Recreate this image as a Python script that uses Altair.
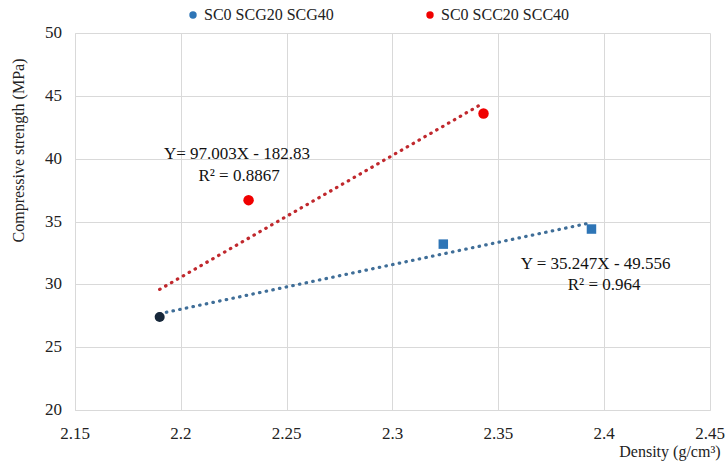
import altair as alt
import pandas as pd

# ---- data ----
series_names = ["SC0 SCG20 SCG40", "SC0 SCC20 SCC40"]
density_scg = [2.19, 2.324, 2.394]
strength_scg = [27.4, 33.2, 34.4]
density_scc = [2.19, 2.232, 2.343]
strength_scc = [27.4, 36.7, 43.6]

x_ticks = [2.15, 2.2, 2.25, 2.3, 2.35, 2.4, 2.45]
y_ticks = [20, 25, 30, 35, 40, 45, 50]

eq_texts = ["Y= 97.003X - 182.83", "R\u00b2 = 0.8867", "Y = 35.247X - 49.556", "R\u00b2 = 0.964"]
eq_x = [2.2265, 2.2275, 2.396, 2.40]
eq_y = [40.35, 38.65, 31.6, 29.95]

rows = []
for d, s in zip(density_scg, strength_scg):
    rows.append({"series": series_names[0], "density": d, "strength": s})
for d, s in zip(density_scc, strength_scc):
    rows.append({"series": series_names[1], "density": d, "strength": s})
df = pd.DataFrame(rows)
df["is_sc0"] = df["density"] == min(density_scg)

ann = pd.DataFrame({"text": eq_texts, "density": eq_x, "strength": eq_y})
xt = pd.DataFrame({"density": x_ticks, "strength": [min(y_ticks)] * len(x_ticks)})
yt = pd.DataFrame({"strength": y_ticks, "density": [min(x_ticks)] * len(y_ticks)})

FONT = "Liberation Serif"
BLUE = "#2E75B6"
RED = "#F00000"

xscale = alt.Scale(domain=[2.15, 2.45], nice=False, zero=False)
yscale = alt.Scale(domain=[20, 50], nice=False, zero=False)

xaxis = alt.Axis(values=x_ticks, labels=False, title="Density (g/cm\u00b3)",
                 titleX=645, titleY=46, titleAlign="right",
                 titleBaseline="alphabetic", titleFontWeight="normal",
                 titleFont=FONT, titleFontSize=16, ticks=False)
yaxis = alt.Axis(values=y_ticks, labels=False, title="Compressive strength  (MPa)",
                 titleX=-57, titleY=117, titleAngle=-90, titleAlign="center",
                 titleBaseline="middle", titleFontWeight="normal",
                 titleFont=FONT, titleFontSize=16, ticks=False)

xenc = alt.X("density:Q", scale=xscale, axis=xaxis)
yenc = alt.Y("strength:Q", scale=yscale, axis=yaxis)

color = alt.Color("series:N",
                  scale=alt.Scale(domain=series_names, range=[BLUE, RED]),
                  legend=alt.Legend(title=None, orient="none", legendX=110, legendY=-26,
                                    direction="horizontal", symbolType="circle",
                                    symbolSize=55, columnPadding=88, labelFont=FONT,
                                    labelFontSize=16, labelColor="#222222", labelOffset=3,
                                    symbolStrokeWidth=0))

base = alt.Chart(df)

trend_blue = base.transform_filter(alt.datum.series == series_names[0]).transform_regression(
    "density", "strength", method="linear"
).mark_line(strokeDash=[0.5, 6.3], strokeCap="round", strokeWidth=3.2, color="#3F6E98").encode(
    x=xenc, y=yenc)

trend_red = base.transform_filter(alt.datum.series == series_names[1]).transform_regression(
    "density", "strength", method="linear"
).mark_line(strokeDash=[0.5, 6.3], strokeCap="round", strokeWidth=3.2, color="#C0282D").encode(
    x=xenc, y=yenc)

pts_blue = base.transform_filter(
    (alt.datum.series == series_names[0]) & (~alt.datum.is_sc0)
).mark_square(size=90, opacity=1).encode(x=xenc, y=yenc, color=color)

pts_red = base.transform_filter(
    (alt.datum.series == series_names[1]) & (~alt.datum.is_sc0)
).mark_circle(size=110, opacity=1).encode(x=xenc, y=yenc, color=color)

pts_sc0 = base.transform_filter(alt.datum.is_sc0 & (alt.datum.series == series_names[0])).mark_circle(
    size=100, opacity=1, color="#17283A").encode(x=xenc, y=yenc)

labels = alt.Chart(ann).mark_text(font=FONT, fontSize=17, color="#111111",
                                  align="center", baseline="middle").encode(
    x=xenc, y=yenc, text="text:N")

xlabels = alt.Chart(xt).mark_text(font=FONT, fontSize=17, color="#222222",
                                  align="center", baseline="middle", dy=24).encode(
    x=xenc, y=yenc, text=alt.Text("density:Q", format="~g"))

ylabels = alt.Chart(yt).mark_text(font=FONT, fontSize=17, color="#222222",
                                  align="right", baseline="middle", dx=-13).encode(
    x=xenc, y=yenc, text=alt.Text("strength:Q", format="d"))

chart = alt.layer(trend_blue, trend_red, pts_blue, pts_red, pts_sc0, labels,
                  xlabels, ylabels).properties(
    width=635, height=377,
    autosize=alt.AutoSizeParams(type="none"),
    padding={"left": 75, "top": 33, "right": 18, "bottom": 52},
    background="white",
).configure(
    font=FONT,
).configure_view(stroke=None).configure_axis(
    gridColor="#d9d9d9", domainColor="#d9d9d9",
    titleFont=FONT, titleFontSize=16, titleColor="#222222",
    gridWidth=1, domainWidth=1,
).configure_legend(labelFont=FONT, labelFontSize=16)

chart.save("out.html", embed_options={"renderer": "svg", "actions": False})
